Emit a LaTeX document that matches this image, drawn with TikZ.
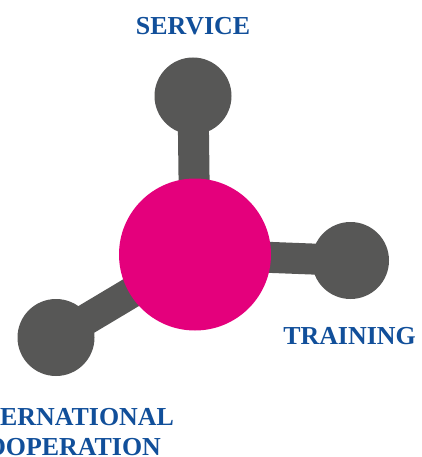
\documentclass[tikz,border=0pt]{standalone}
\usepackage{fontspec}
\setmainfont{Liberation Serif}
\definecolor{hubpink}{HTML}{E4007C}
\definecolor{armgrey}{HTML}{575756}
\definecolor{labelblue}{HTML}{114F9A}
\begin{document}
\begin{tikzpicture}[x=1pt,y=-1pt,
  hub/.style={circle,fill=hubpink,minimum size=152pt,inner sep=0pt},
  ball/.style={circle,fill=armgrey,minimum size=77pt,inner sep=0pt},
  arm/.style={armgrey,line width=31pt},
  lbl/.style={text=labelblue,font=\fontsize{25.9}{30}\selectfont\bfseries,inner sep=0pt,anchor=base}]
\useasboundingbox (0,0) rectangle (422,457);
\clip (0,0) rectangle (422,457);
\coordinate (hc) at (195,254.5);
\coordinate (tc) at (193,96);
\coordinate (rc) at (350.5,260.5);
\coordinate (lc) at (56,337.5);
\draw[arm] (hc) -- (tc);
\draw[arm] (hc) -- (rc);
\draw[arm] (hc) -- (lc);
\node[ball] (top) at (tc) {};
\node[ball] (right) at (rc) {};
\node[ball] (left) at (lc) {};
\node[hub] (hub) at (hc) {};
\node[lbl] (service) at (193,34.5) {SERVICE};
\node[lbl] (training) at (349.5,344.5) {TRAINING};
\node[lbl] (intl) at (64,425) {INTERNATIONAL};
\node[lbl] (coop) at (64,455) {COOPERATION};
\end{tikzpicture}
\end{document}
